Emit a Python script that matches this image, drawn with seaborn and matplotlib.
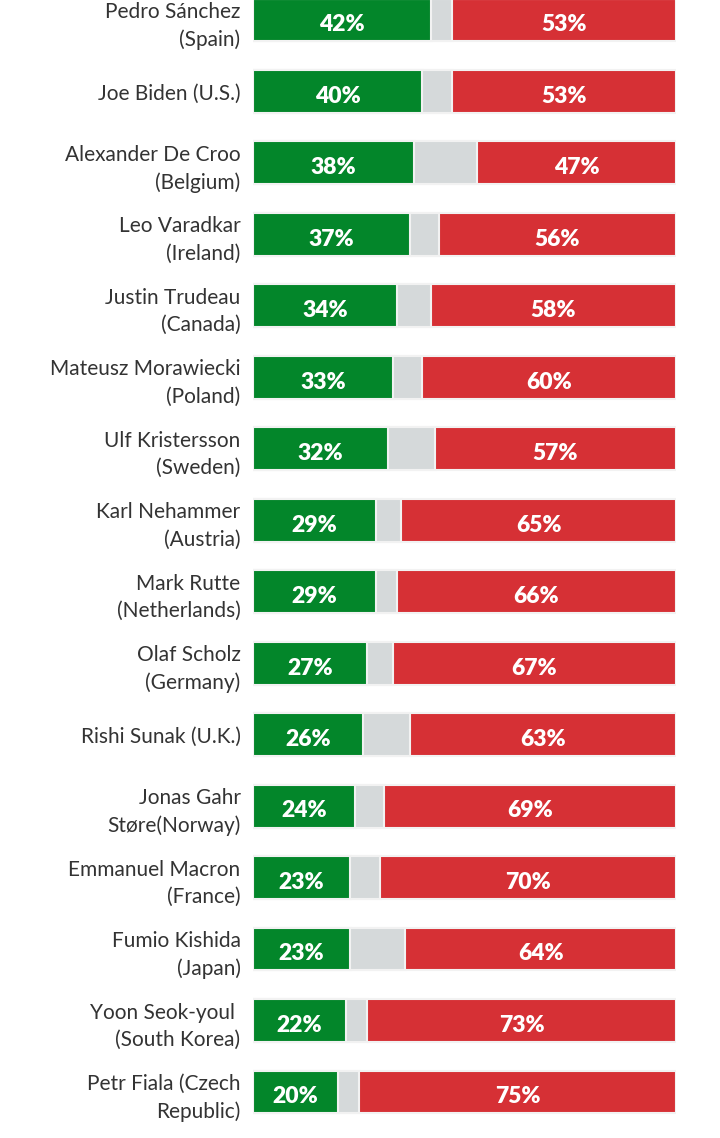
"""Approval ratings of world leaders - stacked horizontal bars."""

import matplotlib.pyplot as plt
import pandas as pd
import seaborn as sns

sns.set_theme(style="white")
plt.rcParams['font.family'] = ['Lato', 'DejaVu Sans']

leaders = [
    "Pedro Sánchez\n(Spain)",
    "Joe Biden (U.S.)",
    "Alexander De Croo\n(Belgium)",
    "Leo Varadkar\n(Ireland)",
    "Justin Trudeau\n(Canada)",
    "Mateusz Morawiecki\n(Poland)",
    "Ulf Kristersson\n(Sweden)",
    "Karl Nehammer\n(Austria)",
    "Mark Rutte\n(Netherlands)",
    "Olaf Scholz\n(Germany)",
    "Rishi Sunak (U.K.)",
    "Jonas Gahr\nStøre(Norway)",
    "Emmanuel Macron\n(France)",
    "Fumio Kishida\n(Japan)",
    "Yoon Seok-youl \n(South Korea)",
    "Petr Fiala (Czech\nRepublic)",
]
approve = [42, 40, 38, 37, 34, 33, 32, 29, 29, 27, 26, 24, 23, 23, 22, 20]
disapprove = [53, 53, 47, 56, 58, 60, 57, 65, 66, 67, 63, 69, 70, 64, 73, 75]

GREEN = "#03862a"
GRAY = "#d5d9da"
RED = "#d63035"

df = pd.DataFrame({"Leader": leaders, "Approve": approve, "Disapprove": disapprove})
df["Neutral"] = 100 - df["Approve"] - df["Disapprove"]
df["Total"] = 100
df["NotDisapprove"] = df["Approve"] + df["Neutral"]

fig = plt.figure(figsize=(7.2, 11.38), dpi=100)
ax = fig.add_axes([0.3514, 0, 0.5875, 1])

bar_kw = dict(orient="h", width=0.6, edgecolor="#f2f2f2", linewidth=1.5, ax=ax)
# layers drawn back to front: disapprove (full), neutral, approve
sns.barplot(data=df, x="Total", y="Leader", color=RED, saturation=1, **bar_kw)
sns.barplot(data=df, x="NotDisapprove", y="Leader", color=GRAY, saturation=1, **bar_kw)
sns.barplot(data=df, x="Approve", y="Leader", color=GREEN, saturation=1, **bar_kw)

val_kw = dict(ha="center", va="center_baseline", color="white", fontsize=16.5,
              fontweight="heavy")
for i, row in df.iterrows():
    ax.text(row["Approve"] / 2, i + 0.04, f"{row['Approve']}%", **val_kw)
    ax.text((row["NotDisapprove"] + 100) / 2, i + 0.04, f"{row['Disapprove']}%", **val_kw)

ax.set_xlim(0, 100)
ax.set_ylim(15.644, -0.28)
ax.set_xlabel("")
ax.set_ylabel("")
ax.set_xticks([])
ax.tick_params(axis="y", length=0, pad=9, labelsize=15, labelcolor="#333333")
for lbl in ax.get_yticklabels():
    lbl.set_linespacing(1.45)
sns.despine(ax=ax, left=True, bottom=True)

fig.savefig("out.png", dpi=100)
